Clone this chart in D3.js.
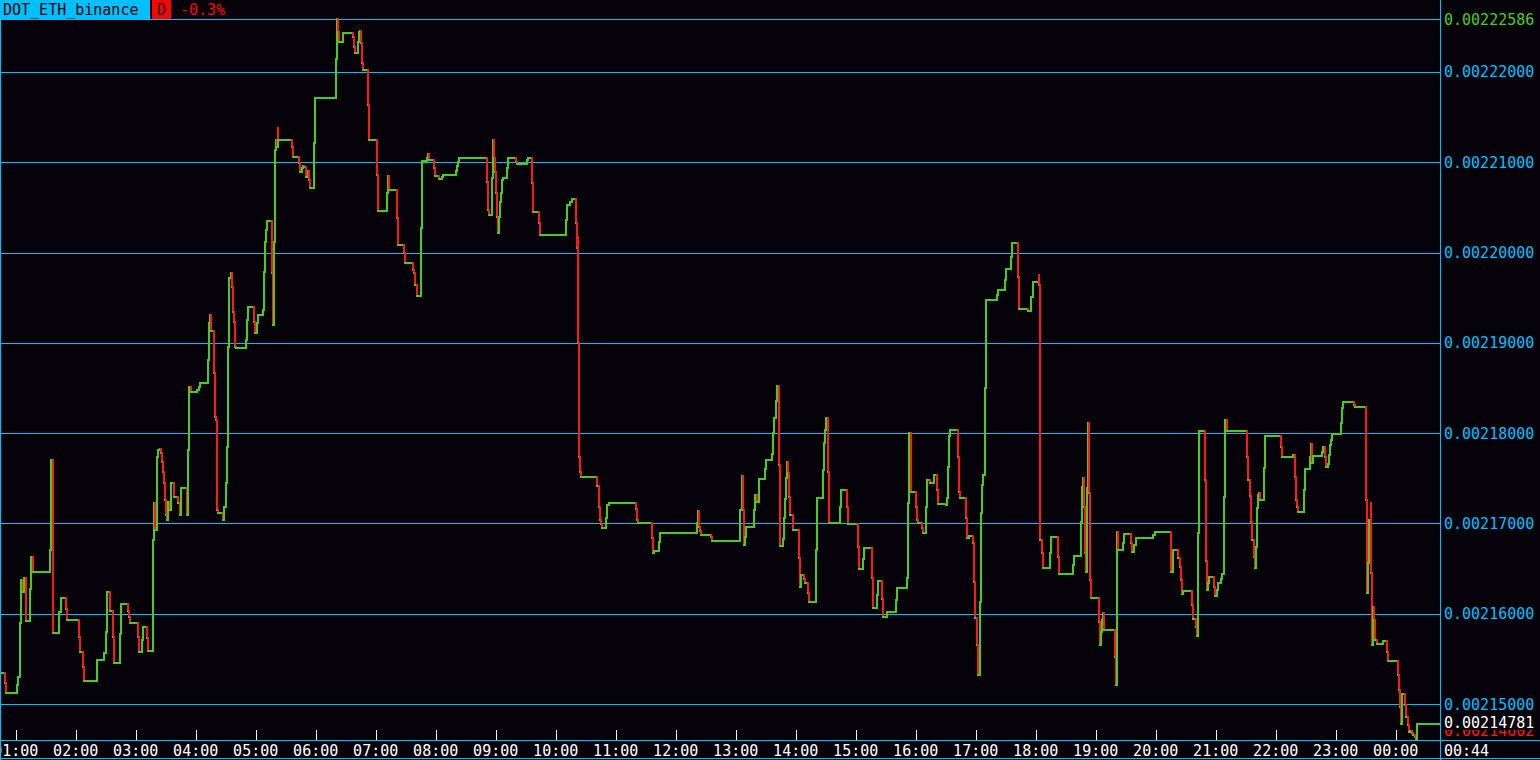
<!DOCTYPE html>
<html><head><meta charset="utf-8">
<script src="https://cdn.jsdelivr.net/npm/d3@7"></script>
<style>
html,body{margin:0;padding:0;background:#050309;overflow:hidden;}
svg{display:block;}
text{font-family:"DejaVu Sans Mono",monospace;font-size:15px;}
</style></head><body><svg id="c" width="1540" height="760"></svg>
<script>
const symbol = "DOT_ETH_binance";
const periodLabel = "D";
const changeLabel = "-0.3%";
const windowStart = "00:44:18";
const clockLabel = "00:44";
const priceTicks = [0.00215,0.00216,0.00217,0.00218,0.00219,0.00220,0.00221,0.00222];
const priceTickLabels = ["0.00215000","0.00216000","0.00217000","0.00218000","0.00219000","0.00220000","0.00221000","0.00222000"];

const times = [
"00:44:18","00:49:18","00:50:18","01:01:00","01:02:18","01:04:18","01:05:18","01:06:48","01:07:48","01:09:48",
"01:14:18","01:15:18","01:16:48","01:34:18","01:35:18","01:36:48","01:37:36","01:43:18","01:45:18","01:50:18",
"01:51:00","02:03:18","02:04:18","02:07:00","02:08:18","02:21:18","02:28:18","02:30:18","02:31:18","02:34:18",
"02:37:00","02:38:18","02:44:18","02:45:00","02:52:36","02:53:36","02:54:18","03:02:00","03:03:00","03:06:00",
"03:07:00","03:11:00","03:12:00","03:17:00","03:17:36","03:18:36","03:19:36","03:21:00","03:22:18","03:24:18",
"03:25:18","03:26:36","03:27:36","03:28:36","03:29:36","03:30:18","03:31:18","03:32:00","03:34:18","03:35:18",
"03:38:00","03:42:36","03:44:00","03:45:00","03:51:00","03:51:18","03:52:00","03:53:18","03:55:00","04:01:00",
"04:03:00","04:04:18","04:12:18","04:13:18","04:14:18","04:15:00","04:18:18","04:19:18","04:20:18","04:21:00",
"04:22:36","04:27:00","04:28:36","04:30:00","04:31:18","04:32:18","04:33:00","04:35:00","04:36:00","04:37:00",
"04:38:18","04:39:18","04:40:18","04:50:00","04:51:00","04:52:18","04:58:36","04:59:36","05:01:18","05:02:18",
"05:07:00","05:08:36","05:09:18","05:10:18","05:11:36","05:16:36","05:17:36","05:18:18","05:19:18","05:20:18",
"05:21:18","05:22:00","05:22:36","05:36:00","05:37:00","05:43:18","05:44:18","05:46:00","05:47:36","05:48:36",
"05:50:18","05:52:00","05:53:18","05:54:18","05:58:18","05:59:18","06:20:18","06:21:18","06:22:36","06:23:18",
"06:27:00","06:37:00","06:38:18","06:39:36","06:42:00","06:43:00","06:44:18","06:45:00","06:46:18","06:47:18",
"06:52:18","06:53:18","07:01:00","07:02:00","07:11:00","07:12:00","07:13:00","07:21:00","07:22:00","07:28:18",
"07:29:18","07:37:00","07:38:18","07:39:36","07:41:00","07:45:00","07:46:00","07:51:00","07:52:00","07:53:18",
"07:58:36","07:59:18","08:03:36","08:06:00","08:07:00","08:20:18","08:21:36","08:22:36","08:23:36","08:51:36",
"08:52:36","08:53:36","08:56:36","08:57:00","08:58:00","08:59:00","09:00:00","09:01:00","09:02:18","09:03:18",
"09:04:18","09:05:18","09:06:00","09:07:36","09:11:36","09:12:36","09:20:18","09:21:00","09:31:00","09:32:00",
"09:36:36","09:37:36","09:43:18","09:44:18","10:10:00","10:11:00","10:14:18","10:16:00","10:20:18","10:21:18",
"10:22:18","10:22:36","10:23:18","10:24:18","10:25:18","10:41:36","10:43:00","10:44:18","10:45:18","10:46:18",
"10:50:18","10:51:18","10:53:00","11:20:18","11:21:18","11:22:00","11:36:36","11:37:18","11:38:36","11:43:36",
"11:44:18","12:21:36","12:22:18","12:23:18","12:24:18","12:25:18","12:35:18","12:36:18","13:04:36","13:06:18",
"13:07:18","13:08:18","13:09:18","13:10:00","13:18:18","13:19:18","13:21:36","13:23:00","13:29:18","13:30:36",
"13:36:18","13:37:36","13:38:18","13:40:18","13:41:18","13:43:18","13:44:18","13:47:00","13:48:18","13:49:18",
"13:50:18","13:51:18","13:52:18","13:53:18","13:54:18","13:57:00","14:03:18","14:04:18","14:05:36","14:08:00",
"14:09:18","14:12:36","14:13:36","14:20:18","14:21:18","14:27:36","14:28:36","14:29:36","14:30:18","14:32:36",
"14:33:18","14:44:18","14:45:18","14:51:00","14:52:00","15:02:00","15:03:00","15:07:00","15:08:00","15:16:00",
"15:17:00","15:21:00","15:22:00","15:26:18","15:27:18","15:31:00","15:40:18","15:41:18","15:51:00","15:52:00",
"15:53:18","15:55:00","15:55:18","16:00:18","16:01:18","16:02:36","16:06:00","16:07:00","16:10:18","16:11:36",
"16:14:18","16:18:00","16:21:36","16:22:18","16:30:18","16:31:36","16:32:36","16:33:36","16:34:36","16:42:00",
"16:43:00","16:44:18","16:50:18","16:51:18","16:53:36","16:57:00","16:58:18","16:59:18","17:01:00","17:02:00",
"17:04:18","17:05:18","17:06:36","17:07:36","17:09:18","17:10:18","17:21:00","17:22:18","17:29:18","17:30:18",
"17:35:18","17:36:18","17:42:18","17:43:18","17:52:36","17:55:36","17:57:00","18:03:00","18:03:18","18:04:00",
"18:04:18","18:06:00","18:07:00","18:14:18","18:15:18","18:22:36","18:23:18","18:37:36","18:38:36","18:45:18",
"18:46:18","18:47:36","18:48:36","18:49:36","18:50:18","18:51:00","18:52:00","18:53:00","18:54:00","18:55:00",
"19:03:18","19:04:18","19:05:18","19:06:18","19:07:18","19:08:18","19:19:18","19:20:18","19:21:00","19:21:36",
"19:22:36","19:27:36","19:28:36","19:35:18","19:36:36","19:38:36","19:40:18","19:57:36","19:59:00","20:15:00",
"20:15:18","20:17:00","20:22:36","20:24:18","20:25:18","20:26:00","20:27:00","20:36:18","20:37:18","20:40:18",
"20:41:00","20:42:00","20:43:18","20:49:00","20:50:00","20:51:00","20:52:18","20:53:18","20:58:18","20:59:18",
"21:01:00","21:02:36","21:05:00","21:06:00","21:08:18","21:09:18","21:11:00","21:11:36","21:31:00","21:32:18",
"21:34:18","21:35:18","21:36:36","21:38:00","21:39:36","21:40:18","21:41:18","21:42:18","21:43:18","21:44:18",
"21:48:18","21:49:18","22:05:00","22:06:00","22:17:36","22:19:00","22:20:00","22:21:00","22:22:00","22:28:18",
"22:29:18","22:34:18","22:35:18","22:36:36","22:37:36","22:46:00","22:47:00","22:49:18","22:50:18","22:52:36",
"22:53:36","22:54:36","22:55:36","22:56:36","23:05:00","23:06:18","23:07:18","23:18:18","23:19:00","23:30:18",
"23:31:00","23:32:18","23:33:36","23:35:18","23:35:36","23:36:18","23:37:36","23:38:36","23:39:36","23:41:00",
"23:47:00","23:51:36","23:52:36","00:02:00","00:03:00","00:04:18","00:05:00","00:06:00","00:09:18","00:10:18",
"00:12:00","00:13:18","00:14:18","00:16:00","00:17:36","00:19:18","00:20:18","00:21:00","00:21:36"
];

const prices = [
0.00215344,0.00215233,0.00215123,0.00215211,0.00215300,0.00215898,0.00216374,0.00216241,0.00216396,0.00215920,
0.00216274,0.00216629,0.00216463,0.00216706,0.00217703,0.00215820,0.00215787,0.00216020,0.00216175,0.00216053,
0.00215931,0.00215743,0.00215577,0.00215411,0.00215255,0.00215488,0.00215566,0.00215798,0.00216241,0.00216031,
0.00215743,0.00215455,0.00215776,0.00216108,0.00216031,0.00215964,0.00215898,0.00215743,0.00215577,0.00215710,
0.00215854,0.00215732,0.00215588,0.00216009,0.00216817,0.00217227,0.00216928,0.00217736,0.00217814,0.00217825,
0.00217781,0.00217681,0.00217570,0.00217448,0.00217260,0.00217094,0.00217039,0.00217238,0.00217149,0.00217448,
0.00217293,0.00217227,0.00217094,0.00217393,0.00217293,0.00217094,0.00217814,0.00218512,0.00218456,0.00218478,
0.00218512,0.00218556,0.00218811,0.00219220,0.00219309,0.00219132,0.00218667,0.00218179,0.00218146,0.00217149,
0.00217116,0.00217039,0.00217183,0.00217448,0.00217847,0.00218955,0.00219719,0.00219774,0.00219619,0.00219342,
0.00219231,0.00218955,0.00218943,0.00219032,0.00219254,0.00219398,0.00219231,0.00219110,0.00219220,0.00219309,
0.00219364,0.00219785,0.00220117,0.00220250,0.00220350,0.00219774,0.00219198,0.00220117,0.00221136,0.00221247,
0.00221170,0.00221380,0.00221247,0.00221170,0.00221059,0.00220992,0.00220893,0.00220937,0.00220959,0.00220948,
0.00220837,0.00220904,0.00220804,0.00220715,0.00221214,0.00221712,0.00222144,0.00222586,0.00222443,0.00222332,
0.00222432,0.00222388,0.00222277,0.00222211,0.00222332,0.00222443,0.00222454,0.00222321,0.00222100,0.00222022,
0.00221635,0.00221247,0.00220859,0.00220461,0.00220660,0.00220848,0.00220693,0.00220383,0.00220084,0.00219996,
0.00219885,0.00219807,0.00219774,0.00219641,0.00219519,0.00220272,0.00221014,0.00221048,0.00221092,0.00221026,
0.00220937,0.00220848,0.00220815,0.00220837,0.00220859,0.00220904,0.00220959,0.00221003,0.00221048,0.00220782,
0.00220472,0.00220416,0.00220826,0.00221247,0.00221048,0.00220893,0.00220660,0.00220394,0.00220217,0.00220394,
0.00220560,0.00220660,0.00220804,0.00220826,0.00220937,0.00221048,0.00221003,0.00220981,0.00221026,0.00221048,
0.00220771,0.00220450,0.00220328,0.00220195,0.00220361,0.00220527,0.00220560,0.00220594,0.00220328,0.00220051,
0.00220173,0.00218999,0.00217736,0.00217570,0.00217515,0.00217415,0.00217183,0.00217039,0.00216994,0.00216950,
0.00217061,0.00217205,0.00217227,0.00217160,0.00217039,0.00217005,0.00216839,0.00216673,0.00216695,0.00216795,
0.00216895,0.00217005,0.00217138,0.00216961,0.00216917,0.00216872,0.00216850,0.00216806,0.00217149,0.00217526,
0.00217149,0.00216762,0.00216850,0.00216961,0.00217149,0.00217315,0.00217238,0.00217493,0.00217603,0.00217703,
0.00217770,0.00218002,0.00218168,0.00218356,0.00218523,0.00217648,0.00216751,0.00216828,0.00217061,0.00217271,
0.00217504,0.00217681,0.00217559,0.00217293,0.00217094,0.00216928,0.00216618,0.00216296,0.00216429,0.00216385,
0.00216341,0.00216230,0.00216130,0.00216706,0.00217282,0.00217592,0.00217891,0.00218035,0.00218168,0.00217570,
0.00217005,0.00217183,0.00217371,0.00217183,0.00216994,0.00216740,0.00216496,0.00216607,0.00216728,0.00216396,
0.00216064,0.00216208,0.00216363,0.00216164,0.00215964,0.00216020,0.00216153,0.00216285,0.00216396,0.00217227,
0.00218002,0.00217670,0.00217349,0.00217183,0.00217039,0.00217005,0.00216950,0.00216895,0.00217183,0.00217482,
0.00217448,0.00217537,0.00217371,0.00217216,0.00217205,0.00217282,0.00217626,0.00217969,0.00218035,0.00217736,
0.00217349,0.00217282,0.00217061,0.00216839,0.00216861,0.00216784,0.00216352,0.00215953,0.00215654,0.00215322,
0.00216130,0.00217116,0.00217426,0.00217537,0.00218500,0.00219475,0.00219530,0.00219586,0.00219697,0.00219818,
0.00219951,0.00220106,0.00219730,0.00219375,0.00219353,0.00219508,0.00219674,0.00219752,0.00219641,0.00218290,
0.00216817,0.00216673,0.00216507,0.00216673,0.00216850,0.00216629,0.00216440,0.00216540,0.00216640,0.00217016,
0.00217404,0.00217504,0.00217183,0.00216673,0.00216463,0.00217393,0.00218113,0.00217338,0.00216374,0.00216175,
0.00215909,0.00215654,0.00215798,0.00215931,0.00216009,0.00215820,0.00215521,0.00215211,0.00216075,0.00216906,
0.00216706,0.00216784,0.00216884,0.00216784,0.00216684,0.00216762,0.00216839,0.00216872,0.00216906,0.00216673,
0.00216463,0.00216706,0.00216618,0.00216518,0.00216374,0.00216219,0.00216252,0.00216097,0.00215942,0.00215854,
0.00215754,0.00216895,0.00218024,0.00217482,0.00216584,0.00216263,0.00216341,0.00216407,0.00216296,0.00216197,
0.00216263,0.00216341,0.00216385,0.00216440,0.00217293,0.00218146,0.00218124,0.00218024,0.00217736,0.00217482,
0.00217304,0.00217016,0.00216817,0.00216629,0.00216507,0.00216740,0.00217171,0.00217315,0.00217338,0.00217260,
0.00217614,0.00217969,0.00217847,0.00217736,0.00217758,0.00217515,0.00217260,0.00217183,0.00217127,0.00217371,
0.00217603,0.00217736,0.00217880,0.00217670,0.00217747,0.00217792,0.00217847,0.00217736,0.00217626,0.00217659,
0.00217758,0.00217869,0.00217925,0.00217991,0.00218113,0.00218279,0.00218345,0.00218312,0.00218290,0.00217260,
0.00216230,0.00216562,0.00217039,0.00217227,0.00216452,0.00215654,0.00216075,0.00215931,0.00215710,0.00215665,
0.00215698,0.00215577,0.00215477,0.00215322,0.00215156,0.00214968,0.00214779,0.00215112,0.00214990,0.00214857,
0.00214768,0.00214691,0.00214702,0.00214680,0.00214657,0.00214635,0.00214602,0.00214702,0.00214781
];

// ---------- colours ----------
const BG = "#050309", CYAN = "#00bfff", GREEN = "#4ccb1f", RED = "#ff1a1a", WHITE = "#ffffff";

const svg = d3.select("#c");
const W = 1540, H = 760, plotL = 0, plotR = 1440, plotT = 19, plotB = 740;

const day0 = new Date(2021, 0, 1).getTime();
function secs(s){ const [h,m,x] = s.split(":").map(Number); return h*3600 + m*60 + x; }
const startSec = secs(windowStart);
let off = 0, prev = -1;
const n = Math.min(times.length, prices.length);
const dates = [];
for (let i = 0; i < n; i++) {
  let v = secs(times[i]);
  if (v + off < prev) off += 86400;
  v += off; prev = v;
  dates.push(new Date(day0 + v * 1000));
}
const tStart = new Date(day0 + startSec * 1000);
const tEnd = new Date(day0 + (startSec + 86400) * 1000);

const x = d3.scaleTime().domain([tStart, tEnd]).range([plotL, plotR]);
const ext = d3.extent(prices.slice(0, n));
const y = d3.scaleLinear().domain(ext).range([plotB, plotT]);
const fmt = d3.format(".8f");
const BL = 5.5; // baseline offset to vertically centre digits

svg.append("rect").attr("width", W).attr("height", H).attr("fill", BG);

// grid lines
const grid = svg.append("g").attr("shape-rendering", "crispEdges");
grid.selectAll("line.g").data(priceTicks).join("line")
  .attr("x1", plotL).attr("x2", plotR)
  .attr("y1", d => Math.round(y(d)) + 0.5).attr("y2", d => Math.round(y(d)) + 0.5)
  .attr("stroke", CYAN).attr("stroke-width", 1);
grid.append("line").attr("x1", plotL).attr("x2", plotR)
  .attr("y1", Math.round(y(ext[1])) + 0.5).attr("y2", Math.round(y(ext[1])) + 0.5)
  .attr("stroke", CYAN).attr("stroke-width", 1);

// series segments
const segs = [];
for (let i = 1; i < n; i++) {
  const x0 = Math.round(x(dates[i-1])), x1 = Math.round(x(dates[i]));
  const y0 = Math.round(y(prices[i-1])), y1 = Math.round(y(prices[i]));
  segs.push({x1: x0, x2: x1, y1: y0, y2: y0, c: GREEN});
  segs.push({x1: x1, x2: x1, y1: y0, y2: y1, c: prices[i] < prices[i-1] ? RED : GREEN});
}
segs.push({x1: Math.round(x(dates[n-1])), x2: plotR - 1, y1: Math.round(y(prices[n-1])), y2: Math.round(y(prices[n-1])), c: GREEN});
svg.append("g").attr("shape-rendering", "crispEdges")
  .selectAll("line").data(segs).join("line")
  .attr("x1", d => d.x1).attr("x2", d => d.x2).attr("y1", d => d.y1).attr("y2", d => d.y2)
  .attr("stroke", d => d.c).attr("stroke-width", 2).attr("stroke-linecap", "square");

// right price labels
const lab = svg.append("g");
const labX = plotR + 4;
lab.selectAll("text.t").data(priceTicks).join("text")
  .attr("x", labX).attr("y", d => y(d) + BL).attr("fill", CYAN)
  .text((d, i) => priceTickLabels[i]);
lab.append("text").attr("x", labX).attr("y", y(ext[1]) + BL).attr("fill", GREEN).text(fmt(ext[1]));
const minY = Math.min(y(ext[0]), plotB - 10);
lab.append("text").attr("x", labX).attr("y", minY + BL).attr("fill", RED).text(fmt(ext[0]));
const lastY = y(prices[n-1]) - 1.5;
lab.append("rect").attr("x", plotR + 1).attr("y", lastY - 7.5).attr("width", W - plotR - 1).attr("height", 15).attr("fill", BG);
lab.append("text").attr("x", labX).attr("y", lastY + BL).attr("fill", WHITE).text(fmt(prices[n-1]));

// bottom time axis panel
const ax = svg.append("g");
ax.append("rect").attr("x", 0).attr("y", plotB).attr("width", W).attr("height", H - plotB).attr("fill", BG);
const hours = x.ticks(d3.timeHour.every(1)).filter(d => x(d) > plotL && x(d) < plotR);
ax.selectAll("line.tk").data(hours).join("line")
  .attr("shape-rendering", "crispEdges")
  .attr("x1", d => Math.round(x(d)) + 0.5).attr("x2", d => Math.round(x(d)) + 0.5)
  .attr("y1", plotB - 10).attr("y2", plotB).attr("stroke", WHITE);
ax.selectAll("text.tl").data(hours).join("text")
  .attr("x", d => x(d)).attr("y", plotB + 10 + BL).attr("text-anchor", "middle").attr("fill", WHITE)
  .text(d3.timeFormat("%H:%M"));
ax.append("text").attr("x", labX).attr("y", plotB + 10 + BL).attr("fill", WHITE).text(clockLabel);

// frame lines
const fr = svg.append("g").attr("shape-rendering", "crispEdges").attr("stroke", CYAN).attr("stroke-width", 1);
fr.append("line").attr("x1", 0).attr("x2", W).attr("y1", plotB + 0.5).attr("y2", plotB + 0.5);
fr.append("line").attr("x1", 0).attr("x2", W).attr("y1", H - 1.5).attr("y2", H - 1.5);
fr.append("line").attr("x1", 0.5).attr("x2", 0.5).attr("y1", 0).attr("y2", H);
fr.append("line").attr("x1", plotR + 0.5).attr("x2", plotR + 0.5).attr("y1", 0).attr("y2", H);

// title
const tt = svg.append("g");
tt.append("rect").attr("x", 0).attr("y", 0).attr("width", 150).attr("height", 19).attr("fill", CYAN);
tt.append("text").attr("x", 3).attr("y", 15).attr("fill", "#000").text(symbol);
tt.append("rect").attr("x", 152).attr("y", 0).attr("width", 19).attr("height", 19).attr("fill", "#ff0000");
tt.append("text").attr("x", 161.5).attr("y", 15).attr("text-anchor", "middle").attr("fill", "#000").text(periodLabel);
tt.append("text").attr("x", 180).attr("y", 15).attr("fill", "#ff0000").text(changeLabel);
</script></body></html>
